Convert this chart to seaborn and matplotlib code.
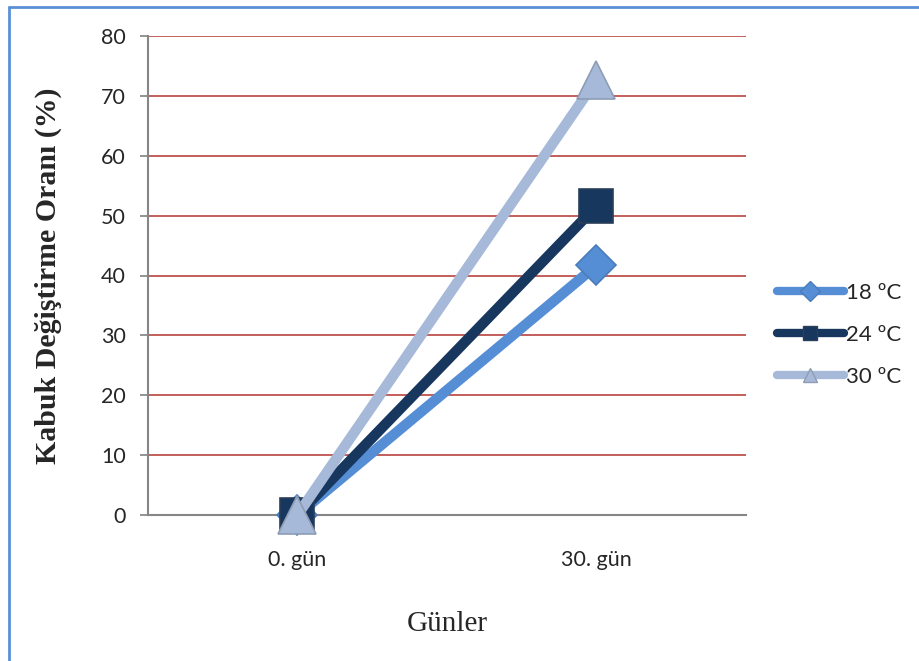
import matplotlib
matplotlib.use("Agg")
import matplotlib.pyplot as plt
import matplotlib.lines as mlines
import pandas as pd
import seaborn as sns

days = ["0. gün", "30. gün"]
series_names = ["18 ºC", "24 ºC", "30 ºC"]
values_18 = [0, 41.7]
values_24 = [0, 51.6]
values_30 = [0, 72.7]
y_ticks = [0, 10, 20, 30, 40, 50, 60, 70, 80]

colors = {"18 ºC": "#558ED5", "24 ºC": "#17375E", "30 ºC": "#A6B9D9"}
edge_colors = {"18 ºC": "#4A7CBB", "24 ºC": "#2A3F5A", "30 ºC": "#8E9DB4"}
markers = {"18 ºC": "D", "24 ºC": "s", "30 ºC": "^"}
marker_sizes = {"18 ºC": 20, "24 ºC": 25, "30 ºC": 27}

df = pd.DataFrame({
    "Gün": days * 3,
    "Oran": values_18 + values_24 + values_30,
    "Sıcaklık": [series_names[0]] * 2 + [series_names[1]] * 2 + [series_names[2]] * 2,
})

sns.set_theme(style="white")
plt.rcParams["font.family"] = ["Lato", "DejaVu Sans"]

fig = plt.figure(figsize=(9.2, 6.61), dpi=100)
ax = fig.add_axes([148 / 920, 1 - 515 / 661, (746 - 148) / 920, (515 - 36) / 661])

for i, name in enumerate(series_names):
    sub = df[df["Sıcaklık"] == name]
    sns.lineplot(data=sub, x="Gün", y="Oran", ax=ax, color=colors[name],
                 linewidth=7.5, marker=markers[name], markersize=marker_sizes[name],
                 markeredgecolor=edge_colors[name], markeredgewidth=1.2,
                 sort=False, legend=False, solid_capstyle="butt",
                 clip_on=False, zorder=3 + i)

ax.set_xlim(-0.5, 1.5)
ax.set_ylim(0, 80)
ax.set_yticks(y_ticks)
ax.set_xticks([0, 1])
ax.set_xticklabels(days)
ax.yaxis.grid(True, color="#B8433F", linewidth=1.2)
ax.xaxis.grid(False)
ax.set_axisbelow(True)
for side in ["top", "right"]:
    ax.spines[side].set_visible(False)
for side in ["left", "bottom"]:
    ax.spines[side].set_color("#868686")
    ax.spines[side].set_linewidth(1.5)
ax.tick_params(axis="y", which="major", left=True, length=6, color="#868686",
               labelsize=15.5, pad=10)
ax.tick_params(axis="x", which="major", bottom=False, labelsize=15.5, pad=19)

ax.set_xlabel("Günler", family="Liberation Serif", fontsize=21, labelpad=30)
ax.set_ylabel("Kabuk Değiştirme Oranı (%)", family="Liberation Serif",
              fontsize=21.5, fontweight="bold", labelpad=28)

handles = [mlines.Line2D([], [], color=colors[n], linewidth=6, marker=markers[n],
                         markersize=10, markeredgecolor=edge_colors[n],
                         solid_capstyle="round") for n in series_names]
fig.legend(handles, series_names, loc="center left",
           bbox_to_anchor=(768 / 920, 1 - 335 / 661), frameon=False,
           fontsize=16, handlelength=3.0, handletextpad=0.1, labelspacing=1.0,
           borderaxespad=0)

# Frame lines on the top and left of the figure
fig.add_artist(mlines.Line2D([9 / 920, 9 / 920], [0, 1 - 7 / 661],
                             transform=fig.transFigure, color="#5B8FD6", linewidth=2))
fig.add_artist(mlines.Line2D([9 / 920, 1], [1 - 7 / 661, 1 - 7 / 661],
                             transform=fig.transFigure, color="#5B8FD6", linewidth=2))

fig.savefig("out.png", dpi=100)
